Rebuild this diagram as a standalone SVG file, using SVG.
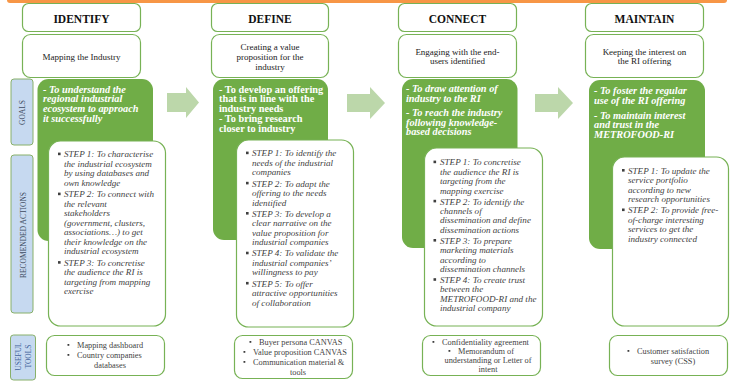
<svg xmlns="http://www.w3.org/2000/svg" width="731" height="382" viewBox="0 0 731 382">
<style>
text{font-family:"Liberation Serif","Times New Roman",serif;}
.box{fill:#fff;stroke:#77B255;stroke-width:1.2;}
.goal{fill:#70AD47;}
.side{fill:#C6D9F0;stroke:#88B06A;stroke-width:1;}
.arrow{fill:#BCD7AA;}
.hdr{font-size:11.5px;font-weight:bold;fill:#111;text-anchor:middle;}
.desc{font-size:9px;fill:#222;text-anchor:middle;}
.gt{font-size:10.3px;font-weight:bold;font-style:italic;fill:#fff;}
.gtu{font-size:10.3px;font-weight:bold;fill:#fff;}
.st{font-size:9.1px;font-style:italic;fill:#3F3F3F;}
.tl{font-size:8.3px;fill:#3F3F3F;}
.tlc{font-size:8.3px;fill:#3F3F3F;text-anchor:middle;}
.vl{font-size:7.5px;fill:#3D4A60;text-anchor:middle;}
.vlb{font-size:7.5px;fill:#3F5F9A;text-anchor:middle;}
.bul{fill:#3F3F3F;}
</style>

<!-- top orange bar -->
<rect x="7" y="-6" width="720" height="9" rx="3" fill="#F79646"/>

<!-- side labels -->
<g id="label-goals">
<rect class="side" x="11" y="79" width="22" height="66" rx="3"/>
<text class="vl" transform="translate(25.3,112.5) rotate(-90)">GOALS</text>
</g>
<g id="label-actions">
<rect class="side" x="11" y="155" width="22" height="158" rx="3"/>
<text class="vl" transform="translate(25.5,235) rotate(-90)">RECOMENDED ACTIONS</text>
</g>
<g id="label-tools">
<rect class="side" x="10.5" y="335" width="25" height="45" rx="3"/>
<text class="vlb" transform="translate(21,356.5) rotate(-90)">USEFUL</text>
<text class="vlb" transform="translate(31,356.5) rotate(-90)">TOOLS</text>
</g>

<!-- connectors (block arrows) -->
<g id="connectors">
<polygon class="arrow" points="167,93 186,93 186,87 199,102.5 186,118 186,112 167,112"/>
<polygon class="arrow" points="347,94 370,94 370,87 385,103 370,119 370,112 347,112"/>
<polygon class="arrow" points="535,94 558,94 558,87 573,103 558,119 558,112 535,112"/>
</g>

<!-- IDENTIFY column -->
<g id="identify">
<rect class="box" x="22.5" y="3.5" width="118" height="28" rx="6"/>
<text class="hdr" x="81.5" y="23.3">IDENTIFY</text>
<rect class="box" x="22.5" y="34.5" width="118" height="43" rx="8"/>
<text class="desc" x="81.5" y="59.5">Mapping the Industry</text>
<rect class="goal" x="37.5" y="79" width="115.5" height="162" rx="11"/>
<text class="gt" x="43" y="92.5">- To understand the</text>
<text class="gt" x="43" y="102.3">regional industrial</text>
<text class="gt" x="43" y="112.1">ecosystem to approach</text>
<text class="gt" x="43" y="121.9">it successfully</text>
<rect class="box" x="48.5" y="141" width="117" height="185" rx="12"/>
<rect class="bul" x="58" y="152.6" width="2.6" height="2.6"/>
<text class="st" x="64" y="157.3">STEP 1: To characterise</text>
<text class="st" x="64" y="166.8">the industrial ecosystem</text>
<text class="st" x="64" y="176.3">by using databases and</text>
<text class="st" x="64" y="185.8">own knowledge</text>
<rect class="bul" x="58" y="192.6" width="2.6" height="2.6"/>
<text class="st" x="64" y="197.3">STEP 2: To connect with</text>
<text class="st" x="64" y="206.8">the relevant</text>
<text class="st" x="64" y="216.3">stakeholders</text>
<text class="st" x="64" y="225.8">(government, clusters,</text>
<text class="st" x="64" y="235.3">associations…) to get</text>
<text class="st" x="64" y="244.8">their knowledge on the</text>
<text class="st" x="64" y="254.3">industrial ecosystem</text>
<rect class="bul" x="58" y="261.1" width="2.6" height="2.6"/>
<text class="st" x="64" y="265.8">STEP 3: To concretise</text>
<text class="st" x="64" y="275.3">the audience the RI is</text>
<text class="st" x="64" y="284.8">targeting from mapping</text>
<text class="st" x="64" y="294.3">exercise</text>
</g>

<!-- DEFINE column -->
<g id="define">
<rect class="box" x="211.5" y="3.5" width="117" height="28" rx="6"/>
<text class="hdr" x="270" y="23.3">DEFINE</text>
<rect class="box" x="211.5" y="34.5" width="117" height="43" rx="8"/>
<text class="desc" x="270" y="49.5">Creating a value</text>
<text class="desc" x="270" y="59.5">proposition for the</text>
<text class="desc" x="270" y="69.5">industry</text>
<rect class="goal" x="213" y="79" width="115" height="161" rx="11"/>
<text class="gtu" x="219" y="92.5">- To develop an offering</text>
<text class="gtu" x="219" y="102.3">that is in line with the</text>
<text class="gtu" x="219" y="112.1">industry needs</text>
<text class="gtu" x="219" y="121.9">- To bring research</text>
<text class="gtu" x="219" y="131.7">closer to industry</text>
<rect class="box" x="236.5" y="140" width="117" height="187" rx="12"/>
<rect class="bul" x="246" y="151.6" width="2.6" height="2.6"/>
<text class="st" x="252" y="156.3">STEP 1: To identify the</text>
<text class="st" x="252" y="165.8">needs of the industrial</text>
<text class="st" x="252" y="175.3">companies</text>
<rect class="bul" x="246" y="181.8" width="2.6" height="2.6"/>
<text class="st" x="252" y="186.5">STEP 2: To adapt the</text>
<text class="st" x="252" y="196">offering to the needs</text>
<text class="st" x="252" y="205.5">identified</text>
<rect class="bul" x="246" y="212" width="2.6" height="2.6"/>
<text class="st" x="252" y="216.7">STEP 3: To develop a</text>
<text class="st" x="252" y="226.2">clear narrative on the</text>
<text class="st" x="252" y="235.7">value proposition for</text>
<text class="st" x="252" y="245.2">industrial companies</text>
<rect class="bul" x="246" y="251.7" width="2.6" height="2.6"/>
<text class="st" x="252" y="256.4">STEP 4: To validate the</text>
<text class="st" x="252" y="265.9">industrial companies’</text>
<text class="st" x="252" y="275.4">willingness to pay</text>
<rect class="bul" x="246" y="281.9" width="2.6" height="2.6"/>
<text class="st" x="252" y="286.6">STEP 5: To offer</text>
<text class="st" x="252" y="296.1">attractive opportunities</text>
<text class="st" x="252" y="305.6">of collaboration</text>
</g>

<!-- CONNECT column -->
<g id="connect">
<rect class="box" x="398.5" y="3.5" width="118" height="28" rx="6"/>
<text class="hdr" x="457.5" y="23.3">CONNECT</text>
<rect class="box" x="398.5" y="34.5" width="118" height="43" rx="8"/>
<text class="desc" x="457.5" y="54.5">Engaging with the end-</text>
<text class="desc" x="457.5" y="64">users identified</text>
<rect class="goal" x="402" y="79" width="115.5" height="169" rx="11"/>
<text class="gt" x="406" y="92.3">- To draw attention of</text>
<text class="gt" x="406" y="102.3">industry to the RI</text>
<text class="gt" x="406" y="116">- To reach the industry</text>
<text class="gt" x="406" y="125.7">following knowledge-</text>
<text class="gt" x="406" y="135.4">based decisions</text>
<rect class="box" x="424.5" y="148" width="118" height="178" rx="12"/>
<rect class="bul" x="433.5" y="160.6" width="2.6" height="2.6"/>
<text class="st" x="440" y="165.3">STEP 1: To concretise</text>
<text class="st" x="440" y="174.7">the audience the RI is</text>
<text class="st" x="440" y="184.1">targeting from the</text>
<text class="st" x="440" y="193.5">mapping exercise</text>
<rect class="bul" x="433.5" y="199.8" width="2.6" height="2.6"/>
<text class="st" x="440" y="204.5">STEP 2: To identify the</text>
<text class="st" x="440" y="213.9">channels of</text>
<text class="st" x="440" y="223.3">dissemination and define</text>
<text class="st" x="440" y="232.7">dissemination actions</text>
<rect class="bul" x="433.5" y="239" width="2.6" height="2.6"/>
<text class="st" x="440" y="243.7">STEP 3: To prepare</text>
<text class="st" x="440" y="253.1">marketing materials</text>
<text class="st" x="440" y="262.5">according to</text>
<text class="st" x="440" y="271.9">dissemination channels</text>
<rect class="bul" x="433.5" y="278.2" width="2.6" height="2.6"/>
<text class="st" x="440" y="282.9">STEP 4: To create trust</text>
<text class="st" x="440" y="292.3">between the</text>
<text class="st" x="440" y="301.7">METROFOOD-RI and the</text>
<text class="st" x="440" y="311.1">industrial company</text>
</g>

<!-- MAINTAIN column -->
<g id="maintain">
<rect class="box" x="585.5" y="3.5" width="118" height="28" rx="6"/>
<text class="hdr" x="644.5" y="23.3">MAINTAIN</text>
<rect class="box" x="585.5" y="34.5" width="118" height="43" rx="8"/>
<text class="desc" x="644.5" y="54.5">Keeping the interest on</text>
<text class="desc" x="644.5" y="64">the RI offering</text>
<rect class="goal" x="589" y="80" width="116" height="169" rx="11"/>
<text class="gt" x="594" y="94">- To foster the regular</text>
<text class="gt" x="594" y="103.7">use of the RI offering</text>
<text class="gt" x="594" y="118.5">- To maintain interest</text>
<text class="gt" x="594" y="128.2">and trust in the</text>
<text class="gt" x="594" y="137.9">METROFOOD-RI</text>
<rect class="box" x="612.5" y="157" width="116" height="169" rx="12"/>
<rect class="bul" x="622" y="169" width="2.6" height="2.6"/>
<text class="st" x="628" y="173.7">STEP 1: To update the</text>
<text class="st" x="628" y="183.2">service portfolio</text>
<text class="st" x="628" y="192.7">according to new</text>
<text class="st" x="628" y="202.2">research opportunities</text>
<rect class="bul" x="622" y="208.5" width="2.6" height="2.6"/>
<text class="st" x="628" y="213.2">STEP 2: To provide free-</text>
<text class="st" x="628" y="222.7">of-charge interesting</text>
<text class="st" x="628" y="232.2">services to get the</text>
<text class="st" x="628" y="241.7">industry connected</text>
</g>

<!-- USEFUL TOOLS boxes -->
<g id="tools-identify">
<rect class="box" x="46.5" y="335.5" width="118" height="40" rx="8"/>
<rect class="bul" x="67.5" y="344" width="1.8" height="1.8"/>
<text class="tl" x="77" y="348">Mapping dashboard</text>
<rect class="bul" x="67.5" y="354" width="1.8" height="1.8"/>
<text class="tl" x="77" y="358">Country companies</text>
<text class="tlc" x="110" y="367.5">databases</text>
</g>
<g id="tools-define">
<rect class="box" x="234.5" y="335.5" width="118" height="43" rx="8"/>
<rect class="bul" x="249.5" y="341" width="1.8" height="1.8"/>
<text class="tl" x="259" y="345">Buyer persona CANVAS</text>
<rect class="bul" x="243.5" y="351" width="1.8" height="1.8"/>
<text class="tl" x="253" y="355">Value proposition CANVAS</text>
<rect class="bul" x="243.5" y="361" width="1.8" height="1.8"/>
<text class="tl" x="253" y="365">Communication material &amp;</text>
<text class="tlc" x="298" y="375">tools</text>
</g>
<g id="tools-connect">
<rect class="box" x="422.5" y="335.5" width="118" height="40" rx="8"/>
<rect class="bul" x="432.5" y="341" width="1.8" height="1.8"/>
<text class="tl" x="442" y="345">Confidentiality agreement</text>
<rect class="bul" x="448.5" y="350" width="1.8" height="1.8"/>
<text class="tl" x="458" y="354">Memorandum of</text>
<text class="tlc" x="488" y="363">understanding or Letter of</text>
<text class="tlc" x="488" y="372">intent</text>
</g>
<g id="tools-maintain">
<rect class="box" x="609.5" y="335.5" width="118" height="40" rx="8"/>
<rect class="bul" x="627.5" y="350" width="1.8" height="1.8"/>
<text class="tl" x="637" y="354">Customer satisfaction</text>
<text class="tlc" x="673" y="364">survey (CSS)</text>
</g>
</svg>
